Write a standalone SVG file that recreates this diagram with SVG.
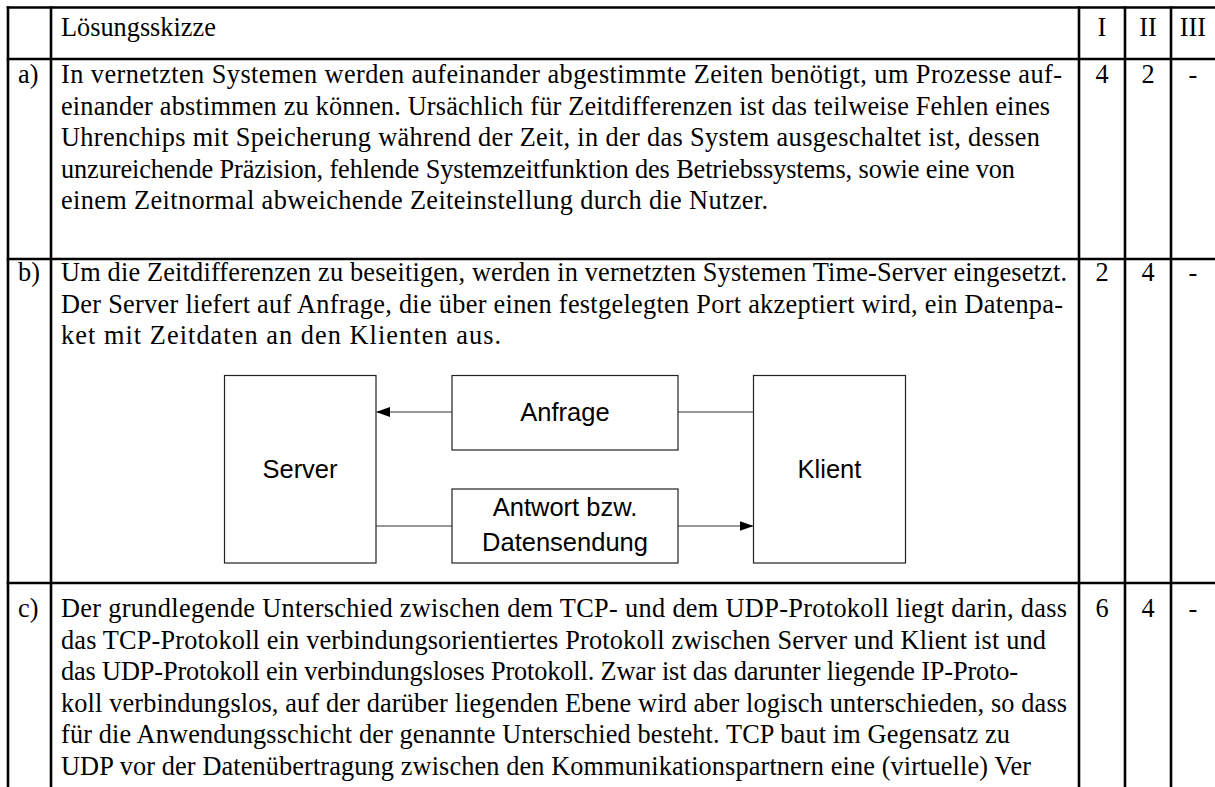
<svg xmlns="http://www.w3.org/2000/svg" width="1215" height="787" viewBox="0 0 1215 787">
<style>
.t{font-family:"Liberation Serif","Times New Roman",serif;font-size:26.3px;fill:#000}
.c{text-anchor:middle}
.g{stroke:#000;stroke-width:2.6;fill:none}
.b{fill:#fff;stroke:#222;stroke-width:1.2}
.s{font-family:"Liberation Sans",Arial,sans-serif;font-size:25.5px;fill:#000;text-anchor:middle}
.ln{stroke:#333;stroke-width:1.2;fill:none}
</style>
<defs>
<marker id="ah" markerWidth="14" markerHeight="10" refX="13" refY="5" orient="auto" markerUnits="userSpaceOnUse">
<path d="M0,0 L14,5 L0,10 Z" fill="#000"/>
</marker>
</defs>
<rect width="1215" height="787" fill="#fff"/>
<g id="table" class="g">
<line x1="6.7" y1="7.5" x2="1215" y2="7.5"/>
<line x1="6.7" y1="59" x2="1215" y2="59"/>
<line x1="6.7" y1="259" x2="1215" y2="259"/>
<line x1="6.7" y1="583" x2="1215" y2="583"/>
<line x1="8" y1="6.2" x2="8" y2="787"/>
<line x1="51" y1="6.2" x2="51" y2="787"/>
<line x1="1079" y1="6.2" x2="1079" y2="787"/>
<line x1="1125" y1="6.2" x2="1125" y2="787"/>
<line x1="1171" y1="6.2" x2="1171" y2="787"/>
</g>
<g id="header" class="t">
<text x="61" y="36">Lösungsskizze</text>
<text class="c" x="1102" y="36">I</text>
<text class="c" x="1148" y="36">II</text>
<text class="c" x="1193" y="36">III</text>
</g>
<g id="row-a" class="t">
<text x="18" y="83">a)</text>
<text x="61" y="83" textLength="1001">In vernetzten Systemen werden aufeinander abgestimmte Zeiten benötigt, um Prozesse auf-</text>
<text x="61" y="114.6" textLength="989">einander abstimmen zu können. Ursächlich für Zeitdifferenzen ist das teilweise Fehlen eines</text>
<text x="61" y="146.2" textLength="979">Uhrenchips mit Speicherung während der Zeit, in der das System ausgeschaltet ist, dessen</text>
<text x="61" y="177.8" textLength="954">unzureichende Präzision, fehlende Systemzeitfunktion des Betriebssystems, sowie eine von</text>
<text x="61" y="209.4" textLength="707">einem Zeitnormal abweichende Zeiteinstellung durch die Nutzer.</text>
<text class="c" x="1102" y="83">4</text>
<text class="c" x="1148" y="83">2</text>
<text class="c" x="1193" y="83">-</text>
</g>
<g id="row-b" class="t">
<text x="18" y="281">b)</text>
<text x="61" y="281" textLength="1006">Um die Zeitdifferenzen zu beseitigen, werden in vernetzten Systemen Time-Server eingesetzt.</text>
<text x="61" y="312.6" textLength="1002">Der Server liefert auf Anfrage, die über einen festgelegten Port akzeptiert wird, ein Datenpa-</text>
<text x="61" y="344.2" textLength="440">ket mit Zeitdaten an den Klienten aus.</text>
<text class="c" x="1102" y="281">2</text>
<text class="c" x="1148" y="281">4</text>
<text class="c" x="1193" y="281">-</text>
</g>
<g id="server">
<rect class="b" x="224.5" y="375.5" width="151.5" height="187.5"/>
<text class="s" x="300" y="478">Server</text>
</g>
<g id="anfrage">
<rect class="b" x="452" y="375.5" width="226" height="74.5"/>
<text class="s" x="565" y="421">Anfrage</text>
</g>
<g id="antwort">
<rect class="b" x="452" y="489" width="226" height="74"/>
<text class="s" x="565" y="516">Antwort bzw.</text>
<text class="s" x="565" y="551">Datensendung</text>
</g>
<g id="klient">
<rect class="b" x="753.5" y="375.5" width="152" height="187.5"/>
<text class="s" x="829.5" y="478">Klient</text>
</g>
<g id="connectors" class="ln">
<line x1="452" y1="412" x2="377" y2="412" marker-end="url(#ah)"/>
<line x1="678" y1="412" x2="753.5" y2="412"/>
<line x1="376" y1="526" x2="452" y2="526"/>
<line x1="678" y1="526" x2="752.5" y2="526" marker-end="url(#ah)"/>
</g>
<g id="row-c" class="t">
<text x="18" y="617">c)</text>
<text x="61" y="617" textLength="1006">Der grundlegende Unterschied zwischen dem TCP- und dem UDP-Protokoll liegt darin, dass</text>
<text x="61" y="648.6" textLength="985">das TCP-Protokoll ein verbindungsorientiertes Protokoll zwischen Server und Klient ist und</text>
<text x="61" y="680.2" textLength="957">das UDP-Protokoll ein verbindungsloses Protokoll. Zwar ist das darunter liegende IP-Proto-</text>
<text x="61" y="711.8" textLength="1006">koll verbindungslos, auf der darüber liegenden Ebene wird aber logisch unterschieden, so dass</text>
<text x="61" y="743.4" textLength="949">für die Anwendungsschicht der genannte Unterschied besteht. TCP baut im Gegensatz zu</text>
<text x="61" y="775" textLength="970">UDP vor der Datenübertragung zwischen den Kommunikationspartnern eine (virtuelle) Ver</text>
<text class="c" x="1102" y="617">6</text>
<text class="c" x="1148" y="617">4</text>
<text class="c" x="1193" y="617">-</text>
</g>
</svg>
